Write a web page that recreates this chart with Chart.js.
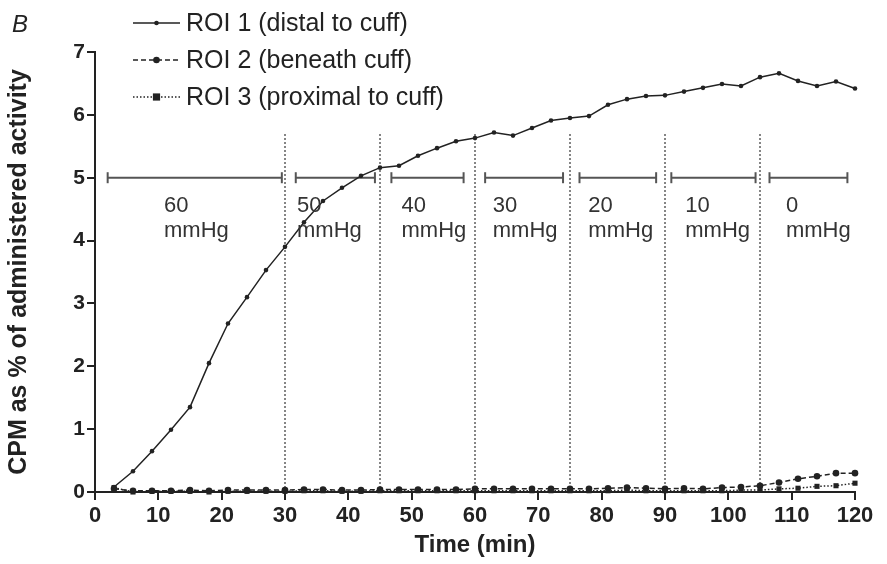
<!DOCTYPE html>
<html><head><meta charset="utf-8">
<script src="https://cdn.jsdelivr.net/npm/chart.js@4/dist/chart.umd.min.js"></script>
<style>html,body{margin:0;padding:0;background:#fff}#wrap{width:887px;height:564px;position:relative}</style>
</head><body><div id="wrap"><canvas id="c" width="887" height="564"></canvas></div>
<script>
// ---- data ----
const timeMin = [3,6,9,12,15,18,21,24,27,30,33,36,39,42,45,48,51,54,57,60,63,66,69,72,75,78,81,84,87,90,93,96,99,102,105,108,111,114,117,120];
const roi1 = [0.08,0.33,0.65,0.99,1.35,2.05,2.68,3.10,3.53,3.90,4.29,4.63,4.84,5.03,5.16,5.19,5.35,5.47,5.58,5.63,5.72,5.67,5.79,5.91,5.95,5.98,6.16,6.25,6.30,6.31,6.37,6.43,6.49,6.46,6.60,6.66,6.54,6.46,6.53,6.42];
const roi2 = [0.05,0.02,0.02,0.02,0.03,0.02,0.03,0.03,0.03,0.03,0.04,0.04,0.03,0.03,0.04,0.04,0.04,0.04,0.04,0.05,0.05,0.05,0.05,0.05,0.05,0.05,0.06,0.07,0.06,0.05,0.06,0.05,0.07,0.08,0.10,0.15,0.21,0.25,0.30,0.30];
const roi3 = [0.07,0.00,0.01,0.01,0.01,0.00,0.01,0.01,0.01,0.01,0.02,0.02,0.01,0.01,0.02,0.02,0.02,0.02,0.02,0.02,0.02,0.02,0.02,0.02,0.02,0.02,0.02,0.03,0.02,0.02,0.02,0.02,0.02,0.03,0.03,0.05,0.06,0.09,0.10,0.14];
const seriesNames = ['ROI 1 (distal to cuff)','ROI 2 (beneath cuff)','ROI 3 (proximal to cuff)'];
const pressureLabels = ['60','50','40','30','20','10','0'];
const pressureUnit = 'mmHg';
const phaseStart = [2,31.7,46.8,61.6,76.5,91,106.5];
const phaseEnd = [29.5,44.2,58.2,73.9,88.6,104.3,118.8];
const phaseLevel = 5;
const labelAnchor = [10.9,31.9,48.4,62.8,77.9,93.2,109.1];
const dividerTimes = [30,45,60,75,90,105];
const dividerTop = 5.7;
const xTicks = [0,10,20,30,40,50,60,70,80,90,100,110,120];
const yTicks = [0,1,2,3,4,5,6,7];
const panelLetter = 'B';
const xTitle = 'Time (min)';
const yTitle = 'CPM as % of administered activity';

// ---- styles ----
const INK = '#222';
const FONT = 'Liberation Sans, Arial, Helvetica, sans-serif';
const pts = arr => timeMin.map((t,i)=>({x:t,y:arr[i]}));

const seriesStyles = [
  {borderDash:[], pointStyle:'circle', pointRadius:2.3},
  {borderDash:[5,3], pointStyle:'circle', pointRadius:3.3},
  {borderDash:[1.5,2], pointStyle:'rect', pointRadius:3.6}
];
const datasets = [];
[roi1,roi2,roi3].forEach((arr,i)=>{
  datasets.push({
    label: seriesNames[i], data: pts(arr),
    borderColor: INK, backgroundColor: INK, borderWidth: 1.5,
    borderDash: seriesStyles[i].borderDash,
    pointStyle: seriesStyles[i].pointStyle, pointRadius: seriesStyles[i].pointRadius,
    pointBorderWidth: 0, pointBackgroundColor: INK,
    tension: 0, clip: false, order: 3 - i
  });
});
phaseStart.forEach((s,i)=>{
  datasets.push({
    label: 'phase'+i, data: [{x:s,y:phaseLevel},{x:phaseEnd[i],y:phaseLevel}],
    borderColor: '#555', borderWidth: 2, pointStyle: 'line', rotation: 90,
    pointRadius: 5.5, pointBorderColor: '#555', pointBorderWidth: 2, clip:false, order: 10
  });
});
dividerTimes.forEach((t,i)=>{
  datasets.push({
    label: 'div'+i, data: [{x:t,y:0},{x:t,y:dividerTop}],
    borderColor: '#444', borderWidth: 1.3, borderDash:[2,2], pointRadius: 0, clip:false, order: 11
  });
});

const annot = {
  id: 'annot',
  afterDatasetsDraw(chart){
    const ctx = chart.ctx, xs = chart.scales.x, ys = chart.scales.y;
    ctx.save();
    // phase labels
    ctx.fillStyle = '#333';
    ctx.font = '22px ' + FONT;
    ctx.textAlign = 'left'; ctx.textBaseline = 'middle';
    const yl = ys.getPixelForValue(phaseLevel);
    pressureLabels.forEach((lab,i)=>{
      const x = xs.getPixelForValue(labelAnchor[i]);
      ctx.fillText(lab, x, yl + 28);
      ctx.fillText(pressureUnit, x, yl + 53);
    });
    // legend
    const lx0 = 133, lx1 = 180, ly0 = 23, ldy = 37;
    ctx.font = '25px ' + FONT;
    for (let i=0;i<3;i++){
      const y = ly0 + i*ldy;
      ctx.strokeStyle = INK; ctx.lineWidth = 1.5;
      ctx.setLineDash(seriesStyles[i].borderDash);
      ctx.beginPath(); ctx.moveTo(lx0,y); ctx.lineTo(lx1,y); ctx.stroke();
      ctx.setLineDash([]);
      ctx.fillStyle = INK;
      const cx = (lx0+lx1)/2, r = seriesStyles[i].pointRadius;
      if (seriesStyles[i].pointStyle === 'rect') { ctx.fillRect(cx-r, y-r, 2*r, 2*r); }
      else { ctx.beginPath(); ctx.arc(cx,y,r,0,Math.PI*2); ctx.fill(); }
      ctx.fillStyle = '#222';
      ctx.fillText(seriesNames[i], 186, y+1);
    }
    // panel letter
    ctx.font = 'italic 24px ' + FONT;
    ctx.fillStyle = '#222';
    ctx.textBaseline = 'alphabetic';
    ctx.fillText(panelLetter, 12, 32);
    ctx.restore();
  }
};

new Chart(document.getElementById('c'), {
  type: 'line',
  data: { datasets },
  options: {
    responsive: false, animation: false, devicePixelRatio: 1,
    layout: { padding: { top: 52, right: 32, left: 0, bottom: 0 } },
    plugins: { legend: { display: false }, tooltip: { enabled: false } },
    scales: {
      x: {
        type: 'linear', min: 0, max: 120,
        afterFit(s){ s.height = 72; },
        afterBuildTicks(s){ s.ticks = xTicks.map(v=>({value:v})); },
        ticks: { color: INK, font: { family: FONT, size: 22, weight: 'bold' }, padding: 3, maxRotation: 0, autoSkip: false },
        grid: { drawOnChartArea: false, drawTicks: true, tickLength: 8, color: INK, lineWidth: 2 },
        border: { display: true, color: INK, width: 2 },
        title: { display: true, text: xTitle, color: INK, font: { family: FONT, size: 24, weight: 'bold' }, padding: { top: 0, bottom: 4 } }
      },
      y: {
        type: 'linear', min: 0, max: 7,
        afterFit(s){ s.width = 95; },
        afterBuildTicks(s){ s.ticks = yTicks.map(v=>({value:v})); },
        ticks: { color: INK, font: { family: FONT, size: 21, weight: 'bold' }, padding: 2 },
        grid: { drawOnChartArea: false, drawTicks: true, tickLength: 8, color: INK, lineWidth: 2 },
        border: { display: true, color: INK, width: 2 },
        title: { display: true, text: yTitle, color: INK, font: { family: FONT, size: 25, weight: 'bold' }, padding: { top: 4, bottom: 4 } }
      }
    }
  },
  plugins: [annot]
});
</script>
</body></html>
